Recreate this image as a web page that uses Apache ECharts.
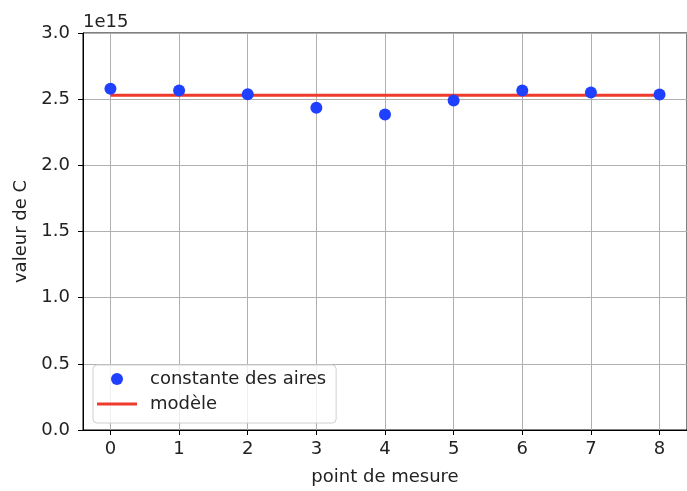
<!DOCTYPE html>
<html><head><meta charset="utf-8">
<script src="https://cdn.jsdelivr.net/npm/echarts@6/dist/echarts.min.js"></script>
<style>html,body{margin:0;padding:0;background:#fff}#c{width:687px;height:491px}</style>
</head><body><div id="c"></div>
<script>
const xPoints = [0, 1, 2, 3, 4, 5, 6, 7, 8];
const constanteDesAires = [2.578e15, 2.566e15, 2.537e15, 2.436e15, 2.385e15, 2.490e15, 2.566e15, 2.551e15, 2.536e15];
const modele = [2.529e15, 2.529e15, 2.529e15, 2.529e15, 2.529e15, 2.529e15, 2.529e15, 2.529e15, 2.529e15];
const xTicks = [0, 1, 2, 3, 4, 5, 6, 7, 8];
const yTicks = [0, 0.5e15, 1.0e15, 1.5e15, 2.0e15, 2.5e15, 3.0e15];

const font = 'DejaVu Sans';
const fs = 18;
const chart = echarts.init(document.getElementById('c'), null, {renderer: 'canvas'});
chart.setOption({
  animation: false,
  backgroundColor: '#fff',
  textStyle: {fontFamily: font},
  grid: {left: 83, top: 33, width: 612, height: 399, show: true, borderColor: '#000', borderWidth: 1, backgroundColor: 'transparent'},
  graphic: [{type: 'text', left: 83, top: 13, style: {text: '1e15', font: fs + 'px "DejaVu Sans"', fill: '#222'}}],
  xAxis: {
    type: 'value', min: -0.4, max: 8.4,
    name: 'point de mesure', nameLocation: 'middle', nameGap: 38,
    nameTextStyle: {fontSize: fs, color: '#222', fontFamily: font},
    axisLine: {onZero: false, lineStyle: {color: '#000', width: 1}},
    axisTick: {show: true, length: 5, lineStyle: {color: '#000'}, customValues: xTicks},
    axisLabel: {customValues: xTicks, margin: 10, fontSize: fs, color: '#222', fontFamily: font, formatter: v => String(v)},
    splitLine: {show: true, lineStyle: {color: '#b0b0b0', width: 1}}
  },
  yAxis: {
    type: 'value', min: 0, max: 3e15, interval: 0.5e15,
    name: 'valeur de C', nameLocation: 'middle', nameGap: 48,
    nameTextStyle: {fontSize: fs, color: '#222', fontFamily: font},
    axisLine: {show: true, onZero: false, lineStyle: {color: '#000', width: 1}},
    axisTick: {show: true, length: 5, lineStyle: {color: '#000'}},
    axisLabel: {margin: 13, fontSize: fs, color: '#222', fontFamily: font, formatter: v => (v / 1e15).toFixed(1)},
    splitLine: {show: true, lineStyle: {color: '#b0b0b0', width: 1}}
  },
  legend: {
    orient: 'vertical', left: 93, top: 365,
    padding: [5, 10, 10, 4],
    itemWidth: 40, itemHeight: 12, itemGap: 7,
    backgroundColor: 'rgba(255,255,255,0.8)', borderColor: '#d0d0d0', borderWidth: 1, borderRadius: 4,
    textStyle: {fontSize: fs, color: '#222', fontFamily: font, padding: [0, 0, 0, 8]},
    data: [{name: 'constante des aires', icon: 'circle'}, {name: 'modèle', icon: 'path://M0 0H40V3H0Z'}]
  },
  series: [
    {
      name: 'modèle', type: 'line', showSymbol: false, symbol: 'none',
      data: xPoints.map((x, i) => [x, modele[i]]),
      lineStyle: {color: '#ee3b2b', width: 3}, itemStyle: {color: '#ee3b2b'}, z: 2
    },
    {
      name: 'constante des aires', type: 'scatter', symbol: 'circle', symbolSize: 12,
      data: xPoints.map((x, i) => [x, constanteDesAires[i]]),
      itemStyle: {color: '#1f40ff', opacity: 1}, z: 3
    }
  ]
});
</script></body></html>
